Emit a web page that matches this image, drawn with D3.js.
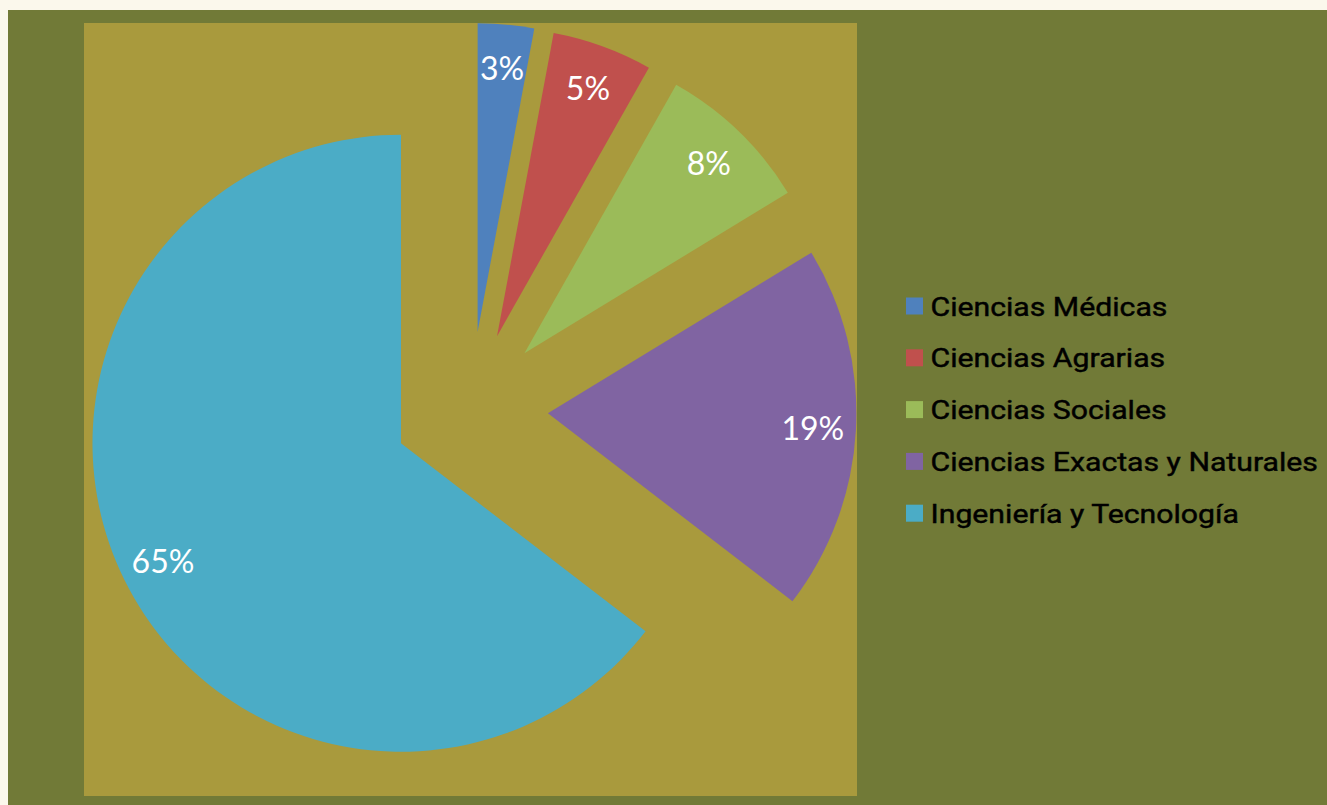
<!DOCTYPE html>
<html>
<head>
<meta charset="utf-8">
<script src="https://cdn.jsdelivr.net/npm/d3@7"></script>
<style>
  html, body { margin: 0; padding: 0; background: #fbf8ec; }
  svg { display: block; }
</style>
</head>
<body>
<svg id="chart" width="1327" height="805"></svg>
<script>
const categories = ["Ciencias Médicas", "Ciencias Agrarias", "Ciencias Sociales", "Ciencias Exactas y Naturales", "Ingeniería y Tecnología"];
const values = [2.94, 5.25, 8.1, 19.14, 64.57];
const colors = ["#4f81bd", "#c0504d", "#9bbb59", "#8064a2", "#4bacc6"];

const svg = d3.select("#chart");
const W = 1327, H = 805;

// outer chart area
svg.append("rect").attr("x", 8).attr("y", 10).attr("width", W - 8).attr("height", H - 10).attr("fill", "#717a37");
// plot area
const plot = { x: 84, y: 23, w: 773, h: 773 };
svg.append("rect").attr("x", plot.x).attr("y", plot.y).attr("width", plot.w).attr("height", plot.h).attr("fill", "#a99a3d");

const cx = 470.5, cy = 409;
const r = 308.5, explode = 77.5;

const total = d3.sum(values);
const pie = d3.pie().sort(null).value(d => d).startAngle(0).endAngle(2 * Math.PI);
const arcs = pie(values);
const arc = d3.arc().innerRadius(0).outerRadius(r);

const g = svg.append("g").attr("transform", `translate(${cx},${cy})`);

const slices = g.selectAll("g.slice").data(arcs).enter().append("g")
  .attr("class", "slice")
  .attr("transform", d => {
    const a = (d.startAngle + d.endAngle) / 2;
    return `translate(${Math.sin(a) * explode},${-Math.cos(a) * explode})`;
  });

slices.append("path").attr("d", arc).attr("fill", (d, i) => colors[i]);

slices.append("text")
  .attr("x", d => Math.sin((d.startAngle + d.endAngle) / 2) * r * 0.86)
  .attr("y", d => -Math.cos((d.startAngle + d.endAngle) / 2) * r * 0.86)
  .attr("dy", "0.4em")
  .attr("text-anchor", "middle")
  .attr("fill", "#ffffff")
  .attr("font-family", "Lato, 'Open Sans', sans-serif")
  .attr("font-size", 32)
  .text(d => Math.round(d.value / total * 100) + "%");

// legend
const legend = svg.append("g");
const ly0 = 306, lstep = 51.8;
const items = legend.selectAll("g").data(categories).enter().append("g")
  .attr("transform", (d, i) => `translate(906,${ly0 + i * lstep})`);
items.append("rect").attr("x", 0).attr("y", -8.5).attr("width", 17).attr("height", 17)
  .attr("fill", (d, i) => colors[i]);
items.append("text")
  .attr("transform", "translate(24.5,9.5) scale(1.14,1)")
  .attr("fill", "#000000")
  .attr("stroke", "#000000")
  .attr("stroke-width", 0.45)
  .attr("font-family", "Roboto, 'Noto Sans', sans-serif")
  .attr("font-weight", 400)
  .attr("font-size", 26.5)
  .text(d => d);
</script>
</body>
</html>
